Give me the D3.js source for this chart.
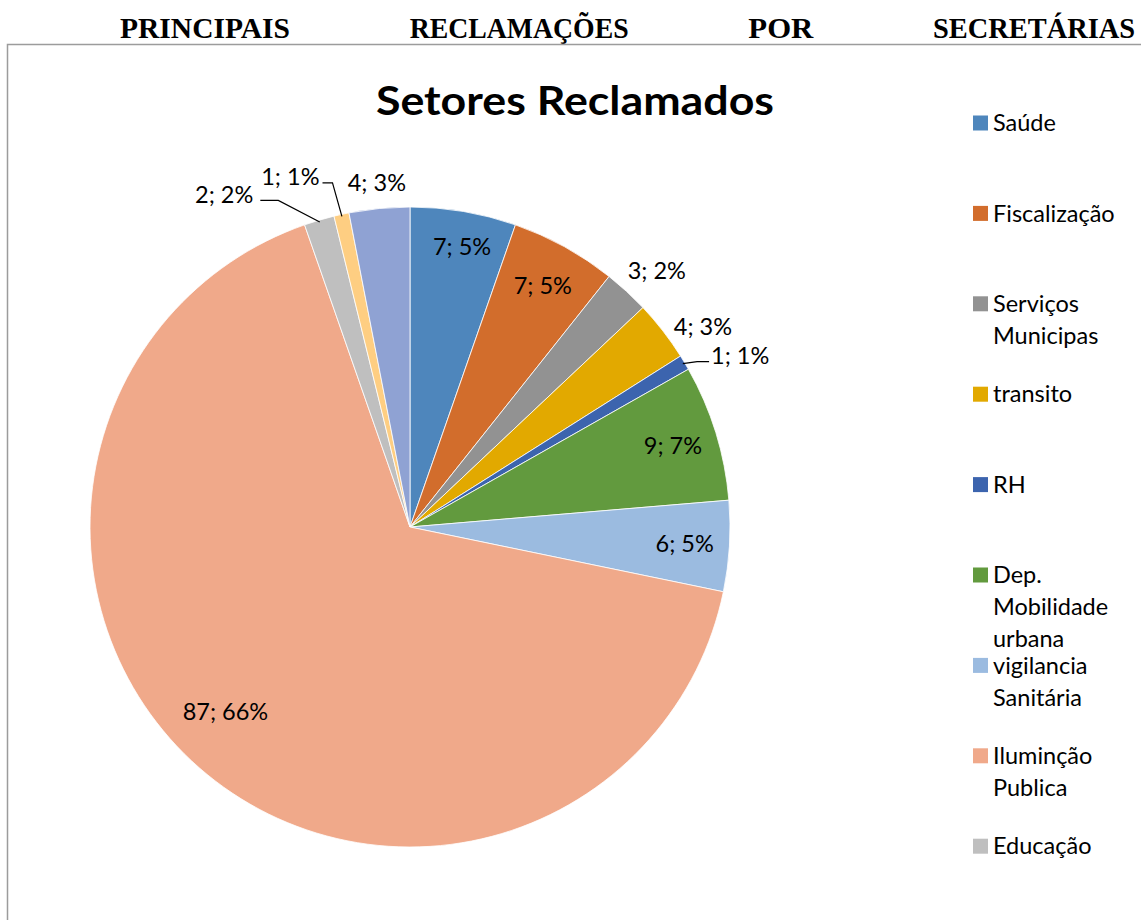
<!DOCTYPE html>
<html>
<head>
<meta charset="utf-8">
<script src="https://cdn.jsdelivr.net/npm/d3@7"></script>
<style>
  html, body { margin: 0; padding: 0; background: #fff; }
  svg { display: block; }
  .head { font-family: "Liberation Serif", "DejaVu Serif", serif; font-weight: bold; font-size: 29px; fill: #000; }
  .title { font-family: Lato, "Open Sans", sans-serif; font-weight: bold; font-size: 40px; fill: #000; }
  .lbl, .leg { font-family: Lato, "Open Sans", sans-serif; font-size: 23.5px; fill: #000; }
</style>
</head>
<body>
<div id="chart"></div>
<script>
// --- data ---
const headWords = ['PRINCIPAIS', 'RECLAMAÇÕES', 'POR', 'SECRETÁRIAS'];
const categories = ['Saúde', 'Fiscalização', 'Serviços Municipas', 'transito', 'RH',
  'Dep. Mobilidade urbana', 'vigilancia Sanitária', 'Iluminção Publica', 'Educação',
  'Categoria 10', 'Categoria 11'];
const values = [7, 7, 3, 4, 1, 9, 6, 87, 2, 1, 4];
const colors = ['#4E86BC', '#D26D2C', '#929292', '#E2A900', '#3C64AE', '#629A3E',
  '#9BBBE0', '#F0A98A', '#BFBFBF', '#FECE82', '#8FA2D3'];

const W = 1141, H = 920;
const CX = 410, CY = 527, R = 320;
// label placement tweaks: [angle shift deg, radius, leader?]
const labelPos = {
  0: [0.9, 285, false], 7: [3.8, 261, false],
  2: [1.3, 356, false], 3: [3.4, 355, false], 4: [3.5, 372, true],
  8: [-12.7, 381, true], 9: [-6.5, 370, true], 10: [0, 346, false]
};

const svg = d3.select('#chart').append('svg').attr('width', W).attr('height', H);

// header: justified words across the line
const headW = [170, 219, 65, 202];
const headL = 120, headR = 1135;
const gap = (headR - headL - d3.sum(headW)) / (headW.length - 1);
const headX = headW.map((w, i) => headL + d3.sum(headW.slice(0, i)) + gap * i);
svg.selectAll('.head').data(headWords).join('text').attr('class', 'head')
  .attr('x', (d, i) => headX[i]).attr('y', 38)
  .attr('textLength', (d, i) => headW[i]).attr('lengthAdjust', 'spacingAndGlyphs')
  .text(d => d);

// chart frame
svg.append('path').attr('d', `M7.5,${H} V44.5 H${W}`)
  .attr('fill', 'none').attr('stroke', '#9c9c9c').attr('stroke-width', 1.5);

svg.append('text').attr('class', 'title').attr('x', 575).attr('y', 115)
  .attr('text-anchor', 'middle').attr('textLength', 398).attr('lengthAdjust', 'spacingAndGlyphs')
  .text('Setores Reclamados');

const total = d3.sum(values);
const pie = d3.pie().sort(null).value(d => d)(values);
const arc = d3.arc().innerRadius(0).outerRadius(R);
const color = d3.scaleOrdinal().domain(d3.range(values.length)).range(colors);

const g = svg.append('g').attr('transform', `translate(${CX},${CY})`);
g.selectAll('path.slice').data(pie).join('path').attr('class', 'slice')
  .attr('d', arc).attr('fill', (d, i) => color(i))
  .attr('stroke', '#fff').attr('stroke-width', 0.8);

const polar = (a, r) => [r * Math.sin(a), -r * Math.cos(a)];
const fmt = (d) => `${d.value}; ${Math.round(d.value / total * 100)}%`;

pie.forEach((d, i) => {
  const mid = (d.startAngle + d.endAngle) / 2;
  const o = labelPos[i] || [0, R * 0.86, false];
  const [x, y] = polar(mid + o[0] * Math.PI / 180, o[1]);
  const t = g.append('text').attr('class', 'lbl').attr('x', x).attr('y', y).attr('dy', '0.35em')
    .attr('text-anchor', 'middle').text(fmt(d));
  if (o[2]) {
    const w = t.node().getComputedTextLength();
    const right = x > 0;
    const ex = right ? x - w / 2 - 2 : x + w / 2 + 9;
    const ey = y + 6;
    const [sx, sy] = polar(mid, R - 2);
    let pts;
    if (right) pts = [[sx, sy], [ex - 12, ey], [ex, ey]];
    else if (Math.abs(sx - ex) > 30) pts = [[sx, sy], [ex + 16, ey], [ex - 2, ey]];
    else pts = [[sx, sy], [ex + 4, ey], [ex - 6, ey]];
    g.append('path').attr('d', d3.line()(pts)).attr('fill', 'none')
      .attr('stroke', '#000').attr('stroke-width', 1.2);
  }
});

// legend (entries past the bottom edge are clipped, as in the source)
const legY = d3.scaleLinear().domain([0, 1]).range([123, 213.4]);
const maxW = W - 993;
categories.forEach((c, i) => {
  const y = legY(i);
  if (y + 12 > H) return;
  svg.append('rect').attr('x', 973).attr('y', y - 7.5).attr('width', 15).attr('height', 15)
    .attr('fill', color(i));
  const t = svg.append('text').attr('class', 'leg').attr('x', 993).attr('y', y).attr('dy', '0.35em');
  const words = c.split(' ');
  let line = [];
  let ts = t.append('tspan').attr('x', 993);
  words.forEach(wd => {
    line.push(wd);
    ts.text(line.join(' '));
    if (ts.node().getComputedTextLength() > maxW && line.length > 1) {
      line.pop(); ts.text(line.join(' '));
      line = [wd];
      ts = t.append('tspan').attr('x', 993).attr('dy', 32).text(wd);
    }
  });
});
</script>
</body>
</html>
